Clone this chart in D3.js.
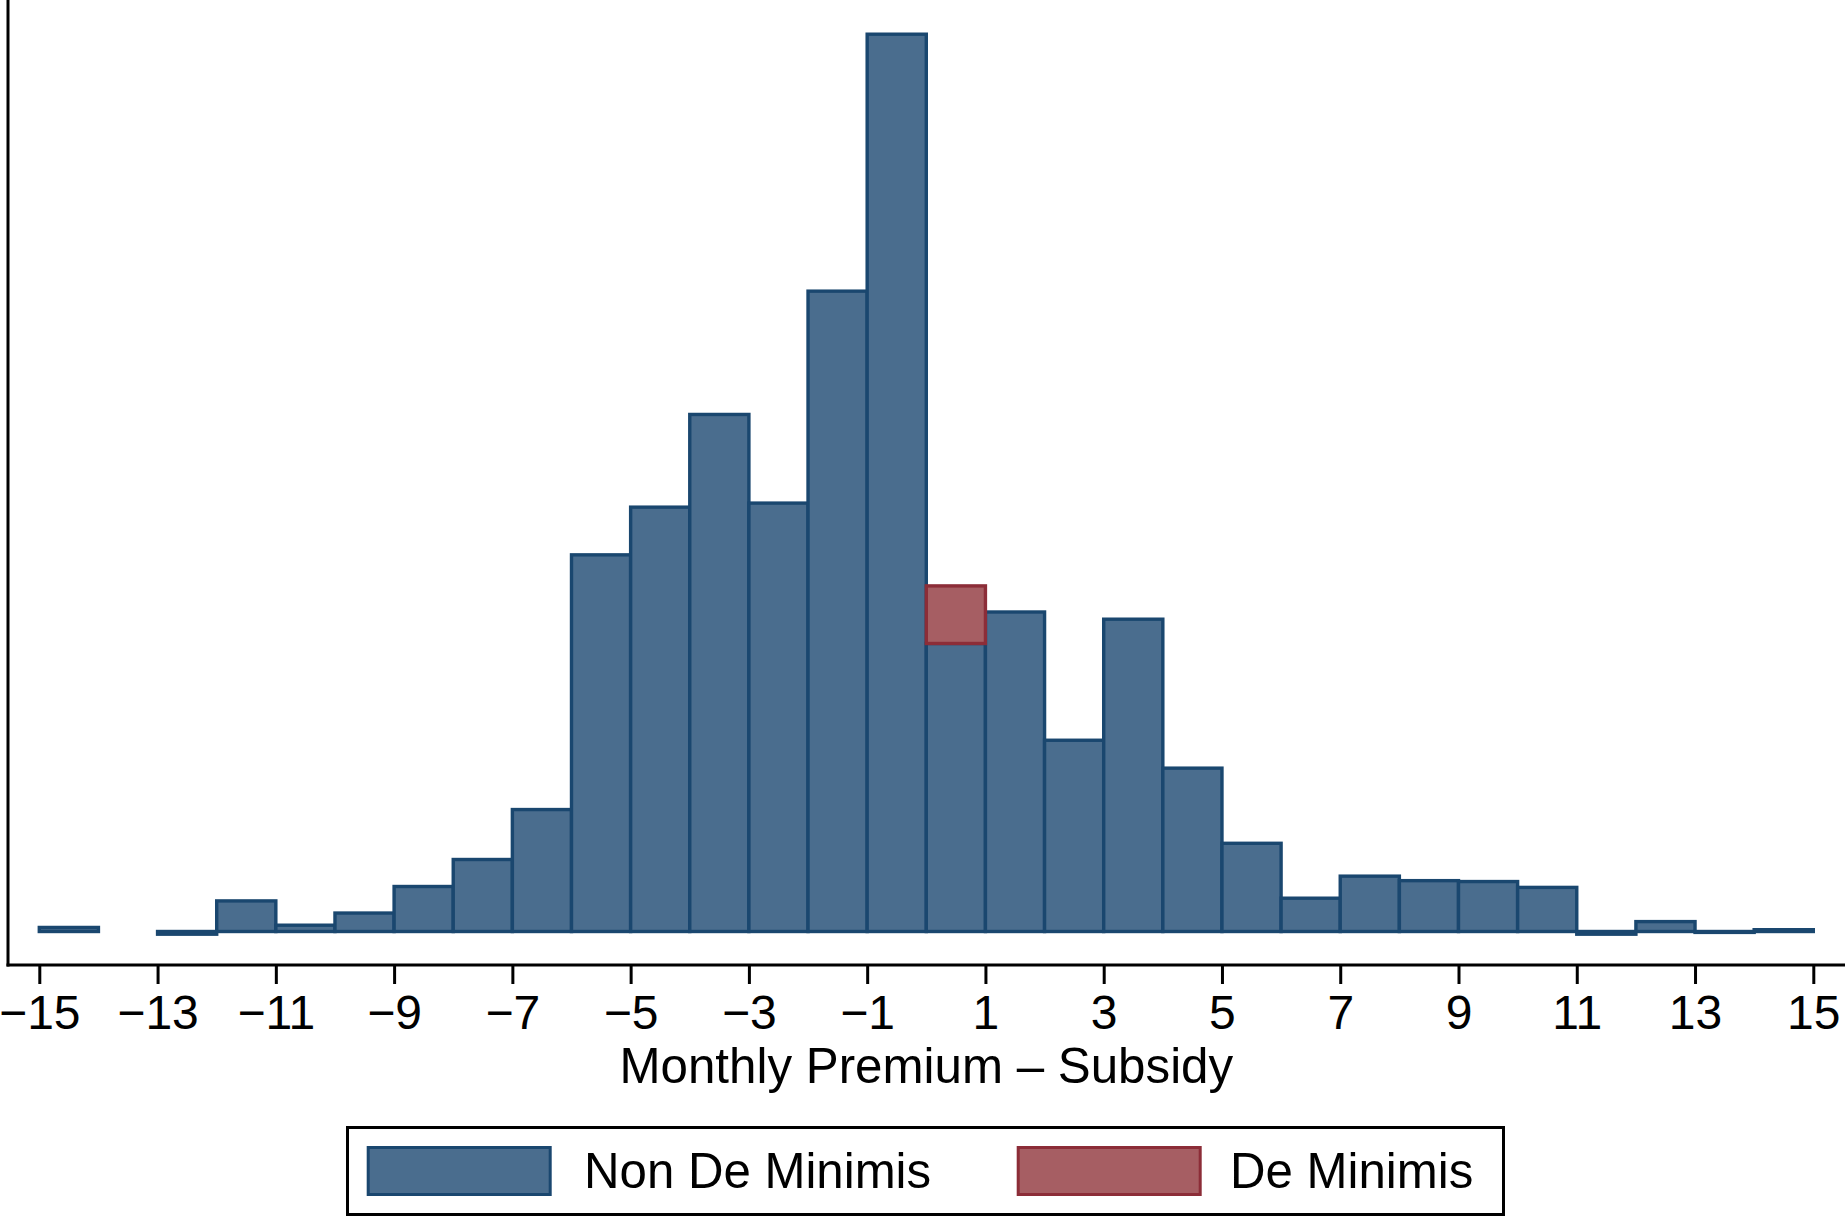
<!DOCTYPE html>
<html lang="en">
<head>
  <meta charset="UTF-8">
  <script src="https://d3js.org/d3.v7.min.js"></script>
  <title>Monthly Premium - Subsidy histogram</title>
  <style>
    body {
      margin: 0;
      background: white;
      font-family: "Liberation Sans", Arial, sans-serif;
      overflow: hidden;
    }
    .tick text {
      font-size: 48px;
      fill: black;
    }
  </style>
</head>
<body>
<script>
  // bin left edges (width 1) and bar heights (density)
  const binStarts = [-15, -14, -13, -12, -11, -10, -9, -8, -7, -6, -5, -4, -3, -2, -1,
                     0, 1, 2, 3, 4, 5, 6, 7, 8, 9, 10, 11, 12, 13, 14];
  const nonDeMinimis = [0.0009, null, -0.0006, 0.0068, 0.0014, 0.0041, 0.0100, 0.0160, 0.0271, 0.0837,
                        0.0943, 0.1149, 0.0952, 0.1423, 0.1994, 0.0640, 0.0710, 0.0425, 0.0694, 0.0363,
                        0.0196, 0.0074, 0.0123, 0.0113, 0.0111, 0.0098, -0.0006, 0.0022, -0.0002, 0.0004];
  // the de minimis bar sits on top of the non de minimis bar in its bin
  const deMinimisBins = [0];
  const deMinimisValues = [0.0128];

  const xTicks = [-15, -13, -11, -9, -7, -5, -3, -1, 1, 3, 5, 7, 9, 11, 13, 15];
  const xTitle = "Monthly Premium \u2013 Subsidy";
  const legendLabels = ["Non De Minimis", "De Minimis"];

  const blueFill = "#4a6d8e", blueLine = "#1a476f";
  const redFill = "#a65e63", redLine = "#8c2d38";

  const width = 1845, height = 1217;

  const svg = d3.select("body").append("svg")
    .attr("width", width)
    .attr("height", height);

  const x = d3.scaleLinear().domain([-15, 15]).range([39.3, 1813.3]);
  const y = d3.scaleLinear().domain([0, 0.2]).range([931.5, 31.5]);

  const bars = binStarts.map((b, i) => ({ start: b, value: nonDeMinimis[i] }))
    .filter(d => d.value !== null);

  // non de minimis bars
  svg.append("g")
    .selectAll("rect")
    .data(bars)
    .enter().append("rect")
    .attr("x", d => x(d.start))
    .attr("width", d => x(d.start + 1) - x(d.start))
    .attr("y", d => Math.min(y(d.value), y(0)))
    .attr("height", d => Math.abs(y(0) - y(d.value)))
    .attr("fill", blueFill)
    .attr("stroke", blueLine)
    .attr("stroke-width", 3.4);

  // de minimis bars stacked on top
  const stacked = deMinimisBins.map((b, i) => {
    const base = nonDeMinimis[binStarts.indexOf(b)] || 0;
    return { start: b, lo: base, hi: base + deMinimisValues[i] };
  });

  svg.append("g")
    .selectAll("rect")
    .data(stacked)
    .enter().append("rect")
    .attr("x", d => x(d.start))
    .attr("width", d => x(d.start + 1) - x(d.start))
    .attr("y", d => y(d.hi))
    .attr("height", d => y(d.lo) - y(d.hi))
    .attr("fill", redFill)
    .attr("stroke", redLine)
    .attr("stroke-width", 3.4);

  // plot region lines (left and bottom)
  svg.append("line")
    .attr("x1", 8).attr("x2", 8)
    .attr("y1", 0).attr("y2", 966.5)
    .attr("stroke", "black").attr("stroke-width", 3);
  svg.append("line")
    .attr("x1", 6.5).attr("x2", width)
    .attr("y1", 965).attr("y2", 965)
    .attr("stroke", "black").attr("stroke-width", 3);

  // x axis ticks and labels
  const xAxis = d3.axisBottom(x)
    .tickValues(xTicks)
    .tickSize(19)
    .tickPadding(11)
    .tickFormat(d => d < 0 ? "\u2212" + Math.abs(d) : String(d));

  svg.append("g")
    .attr("transform", "translate(0,965)")
    .call(xAxis)
    .call(g => g.select(".domain").remove())
    .call(g => g.selectAll(".tick line").attr("stroke", "black").attr("stroke-width", 3))
    .call(g => g.selectAll(".tick text")
      .attr("font-family", "Liberation Sans, Arial, sans-serif")
      .attr("font-size", 48));

  // axis title
  svg.append("text")
    .attr("x", x(0))
    .attr("y", 1083)
    .attr("text-anchor", "middle")
    .attr("font-size", 49.3)
    .attr("fill", "black")
    .text(xTitle);

  // legend
  const legend = svg.append("g");
  legend.append("rect")
    .attr("x", 347.5).attr("y", 1127.5)
    .attr("width", 1156).attr("height", 87)
    .attr("fill", "white")
    .attr("stroke", "black")
    .attr("stroke-width", 3);

  const legendItems = [
    { label: legendLabels[0], fill: blueFill, line: blueLine, sx: 368.2, tx: 584 },
    { label: legendLabels[1], fill: redFill, line: redLine, sx: 1018.2, tx: 1230 }
  ];

  const li = legend.selectAll(".legend-item")
    .data(legendItems)
    .enter().append("g")
    .attr("class", "legend-item");

  li.append("rect")
    .attr("x", d => d.sx).attr("y", 1147.5)
    .attr("width", 182).attr("height", 47)
    .attr("fill", d => d.fill)
    .attr("stroke", d => d.line)
    .attr("stroke-width", 3);

  li.append("text")
    .attr("x", d => d.tx).attr("y", 1187.5)
    .attr("font-size", 49.2)
    .attr("fill", "black")
    .text(d => d.label);
</script>
</body>
</html>
